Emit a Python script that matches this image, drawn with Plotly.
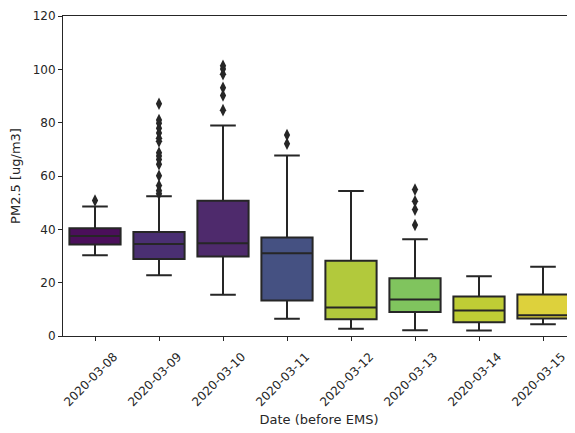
import plotly.graph_objects as go

dates = ["2020-03-08", "2020-03-09", "2020-03-10", "2020-03-11",
         "2020-03-12", "2020-03-13", "2020-03-14", "2020-03-15"]
q1 = [34.3, 28.9, 29.8, 13.3, 6.3, 9.0, 5.2, 6.6]
median = [37.5, 34.5, 34.8, 31.0, 10.7, 13.7, 9.6, 7.8]
q3 = [40.4, 39.0, 50.7, 36.9, 28.2, 21.7, 14.8, 15.6]
lower = [30.3, 22.8, 15.5, 6.5, 2.7, 2.2, 2.1, 4.4]
upper = [48.6, 52.4, 78.9, 67.7, 54.4, 36.3, 22.4, 26.0]
outliers = [
    [50.8],
    [87.1, 81.0, 79.8, 77.9, 76.1, 74.2, 73.0, 68.7, 67.5, 66.2, 64.4, 60.1, 56.4, 54.5, 53.3],
    [101.3, 100.1, 98.2, 93.1, 90.2, 84.7],
    [75.4, 72.1],
    [],
    [54.9, 50.5, 47.4, 41.6],
    [],
    [],
]
colors = ["#4b0f5b", "#4a2f72", "#4e2a6c", "#455182",
          "#b2c93c", "#80c45e", "#bfcd35", "#ddd13c"]

edge = "#262626"
fig = go.Figure()
for i, d in enumerate(dates):
    fig.add_trace(go.Box(
        x=[d], q1=[q1[i]], median=[median[i]], q3=[q3[i]],
        lowerfence=[lower[i]], upperfence=[upper[i]],
        fillcolor=colors[i], line=dict(color=edge, width=2),
        width=0.8, whiskerwidth=0.5, boxpoints=False,
        showlegend=False, hoverinfo="skip",
    ))
    if outliers[i]:
        fig.add_trace(go.Scatter(
            x=[d] * len(outliers[i]), y=outliers[i], mode="markers",
            marker=dict(symbol="diamond-tall", size=9, color=edge),
            showlegend=False, hoverinfo="skip",
        ))

font = "DejaVu Sans"
fig.update_layout(
    width=567, height=425,
    margin=dict(l=55, r=0, t=8, b=97),
    paper_bgcolor="white", plot_bgcolor="white",
    boxmode="overlay",
    font=dict(family=font, size=12, color=edge),
)
fig.update_xaxes(
    type="category", categoryorder="array", categoryarray=dates,
    range=[-0.5, 7.5], automargin=False,
    showline=True, linecolor=edge, linewidth=1, mirror=True,
    ticks="outside", ticklen=4, tickcolor=edge, tickangle=-45,
    ticklabelshift=19, ticklabelstandoff=4, ticklabeloverflow="allow",
    showgrid=False, zeroline=False,
    title=dict(text="Date (before EMS)", font=dict(size=13, color=edge), standoff=6),
    tickfont=dict(size=12, color=edge),
)
fig.update_yaxes(
    range=[0, 120], tickvals=[0, 20, 40, 60, 80, 100, 120], automargin=False,
    showline=True, linecolor=edge, linewidth=1, mirror=False,
    ticks="outside", ticklen=4, tickcolor=edge, ticklabeloverflow="allow",
    showgrid=False, zeroline=False,
    title=dict(text="PM2.5 [ug/m3]", font=dict(size=13, color=edge), standoff=11),
    tickfont=dict(size=12, color=edge),
)
fig.write_html("out.html")
